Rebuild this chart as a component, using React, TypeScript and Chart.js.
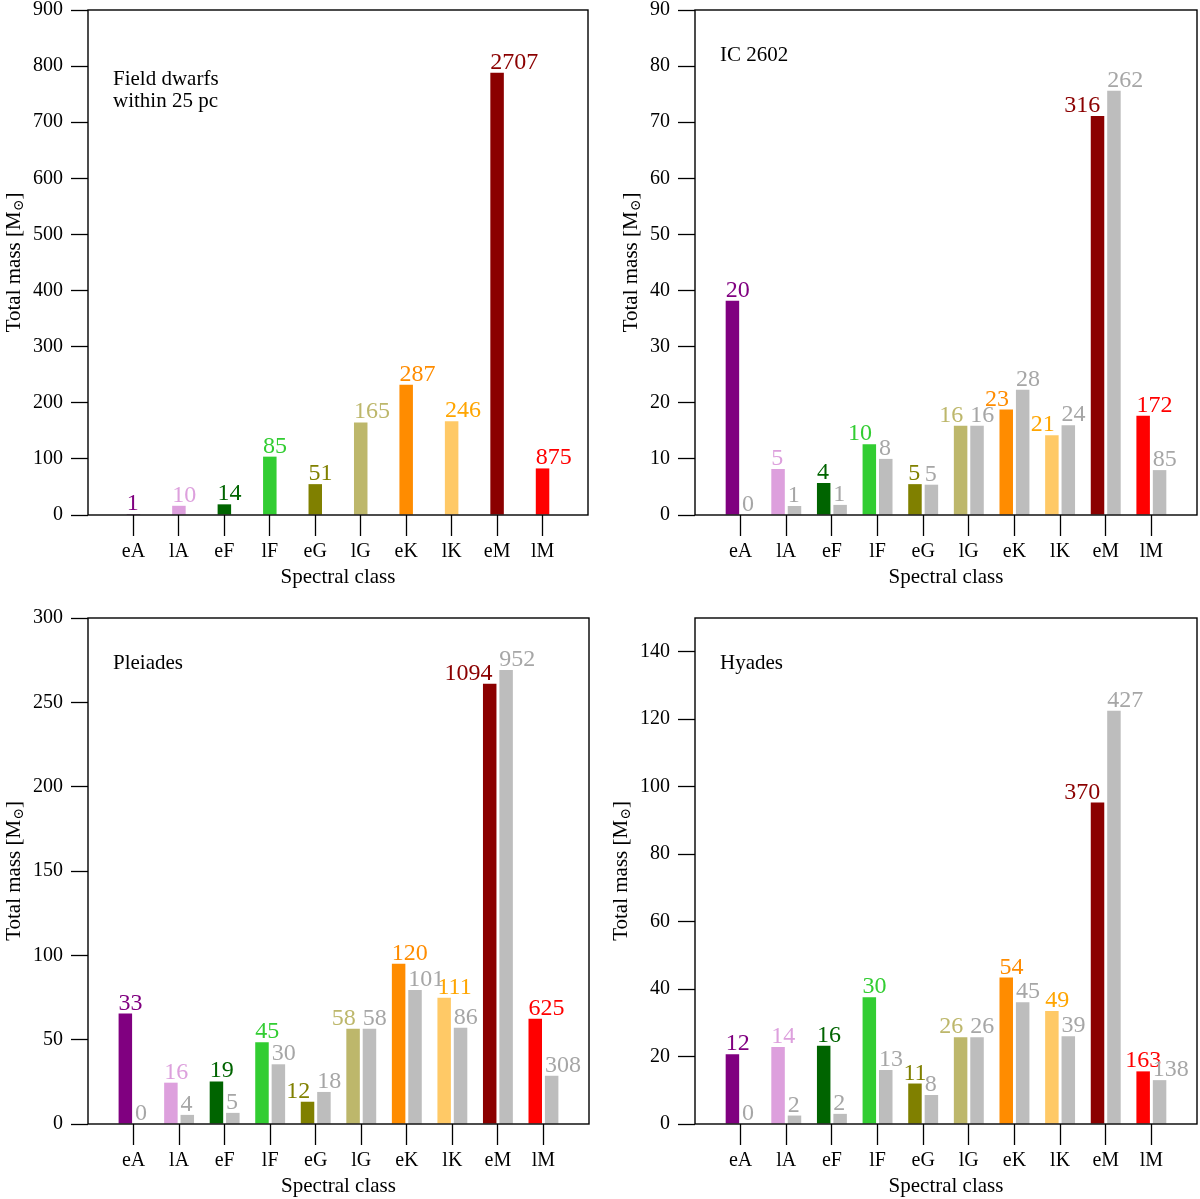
import React, { useEffect, useRef } from 'react';
import { Chart, registerables } from 'chart.js';

Chart.register(...registerables);

const classes = ['eA', 'lA', 'eF', 'lF', 'eG', 'lG', 'eK', 'lK', 'eM', 'lM'];

// field dwarfs within 25 pc
const fieldMass = [1.5, 16.4, 19, 104, 55, 165, 232, 167, 788, 83];
const fieldCounts = [1, 10, 14, 85, 51, 165, 287, 246, 2707, 875];
const fieldTicks = [0, 100, 200, 300, 400, 500, 600, 700, 800, 900];

// IC 2602
const ic2602Mass = [38.2, 8.2, 5.7, 12.6, 5.5, 15.9, 18.8, 14.2, 71.1, 17.7];
const ic2602Counts = [20, 5, 4, 10, 5, 16, 23, 21, 316, 172];
const ic2602RefMass = [0, 1.6, 1.8, 10.0, 5.4, 15.9, 22.3, 16.0, 75.6, 8.0];
const ic2602RefCounts = [0, 1, 1, 8, 5, 16, 28, 24, 262, 85];
const ic2602Ticks = [0, 10, 20, 30, 40, 50, 60, 70, 80, 90];

// Pleiades
const pleiadesMass = [65.5, 24.5, 25.2, 48.5, 13.2, 56.5, 95.0, 74.8, 261, 62.4];
const pleiadesCounts = [33, 16, 19, 45, 12, 58, 120, 111, 1094, 625];
const pleiadesRefMass = [0, 5.4, 6.6, 35.4, 19.0, 56.5, 79.4, 57.1, 269.2, 28.6];
const pleiadesRefCounts = [0, 4, 5, 30, 18, 58, 101, 86, 952, 308];
const pleiadesTicks = [0, 50, 100, 150, 200, 250, 300];

// Hyades
const hyadesMass = [20.7, 22.8, 23.2, 37.6, 12.0, 25.7, 43.4, 33.5, 95.3, 15.6];
const hyadesCounts = [12, 14, 16, 30, 11, 26, 54, 49, 370, 163];
const hyadesRefMass = [0, 2.5, 3.0, 16.0, 8.6, 25.7, 36.1, 26.0, 122.5, 13.0];
const hyadesRefCounts = [0, 2, 2, 13, 8, 26, 45, 39, 427, 138];
const hyadesTicks = [0, 20, 40, 60, 80, 100, 120, 140];

// colours per spectral class
const barColors = ['#800080', '#dda0dd', '#006400', '#32cd32', '#808000', '#bdb76b', '#ff8c00', 'rgba(255,165,0,0.6)', '#8b0000', '#ff0000'];
const textColors = ['#800080', '#dda0dd', '#006400', '#32cd32', '#808000', '#bdb76b', '#ff8c00', '#ffa500', '#8b0000', '#ff0000'];
const greyBar = '#bdbdbd';
const greyText = '#a6a6a6';

// how the coloured count label sits over its bar (l = from bar left, r = ends at bar right, c = centred)
const fieldAlign = ['l', 'l', 'l', 'l', 'l', 'l', 'l', 'l', 'l', 'l'];
const ic2602Align = ['l', 'l', 'l', 'r', 'l', 'r', 'r', 'r', 'r', 'l'];
const pleiadesAlign = ['l', 'l', 'l', 'l', 'r', 'r', 'l', 'l', 'r', 'l'];
const hyadesAlign = ['l', 'l', 'l', 'l', 'c', 'r', 'l', 'l', 'r', 'c'];

const serif = '"Liberation Serif", "DejaVu Serif", serif';
const BAR_PX = 13.5;

type PanelProps = {
  left: number;
  top: number;
  width: number;
  height: number;
  area: [number, number, number, number];
  yMax: number;
  yTicks: number[];
  caption: string[];
  captionY: number;
  mass: number[];
  counts: number[];
  refMass?: number[];
  refCounts?: number[];
  align: string[];
};

const Panel: React.FC<PanelProps> = (p) => {
  const canvasRef = useRef<HTMLCanvasElement>(null);
  const chartInstance = useRef<Chart | null>(null);

  useEffect(() => {
    if (!canvasRef.current) return;
    if (chartInstance.current) chartInstance.current.destroy();
    const ctx = canvasRef.current.getContext('2d');
    if (!ctx) return;

    const [aL, aT, aR, aB] = p.area;
    const pad = (v: number[]) => [null, ...v, null];
    const labels = ['', ...classes, ''];
    const single = !p.refMass;

    // one category step in pixels (x runs from one step before eA to one after lM)
    const step = (aR - aL) / (labels.length - 1);
    const catPct = single ? 1 : 0.72;
    const slot = (step * catPct) / (single ? 1 : 2);
    const barPct = BAR_PX / slot;

    const datasets: any[] = [
      {
        data: pad(p.mass),
        backgroundColor: ['transparent', ...barColors, 'transparent'],
      },
    ];
    if (p.refMass) {
      datasets.push({
        data: pad(p.refMass),
        backgroundColor: greyBar,
      });
    }

    const decor = {
      id: 'decor',
      afterDatasetsDraw(chart: any) {
        const c = chart.ctx;
        const ca = chart.chartArea;
        c.save();

        // count labels
        c.font = `24px ${serif}`;
        c.textBaseline = 'alphabetic';
        const m0 = chart.getDatasetMeta(0);
        p.counts.forEach((n, i) => {
          const bar = m0.data[i + 1];
          const x = bar.x, y = bar.y, w = bar.width;
          c.fillStyle = textColors[i];
          const a = p.align[i];
          if (a === 'r') {
            c.textAlign = 'right';
            c.fillText(String(n), x + w / 2 - 4, y - 4);
          } else if (a === 'c') {
            c.textAlign = 'center';
            c.fillText(String(n), x, y - 4);
          } else {
            c.textAlign = 'left';
            c.fillText(String(n), x - w / 2, y - 4);
          }
        });
        if (p.refCounts) {
          const m1 = chart.getDatasetMeta(1);
          p.refCounts.forEach((n, i) => {
            const bar = m1.data[i + 1];
            c.fillStyle = greyText;
            c.textAlign = 'left';
            c.fillText(String(n), bar.x - bar.width / 2, bar.y - 4);
          });
        }

        // frame
        c.strokeStyle = '#000';
        c.lineWidth = 1.4;
        c.strokeRect(ca.left, ca.top, ca.right - ca.left, ca.bottom - ca.top);

        // caption
        c.fillStyle = '#000';
        c.font = `21px ${serif}`;
        c.textAlign = 'left';
        p.caption.forEach((line, k) => {
          c.fillText(line, ca.left + 25, ca.top + p.captionY + k * 21.5);
        });

        // x title
        c.font = `21px ${serif}`;
        c.textAlign = 'center';
        c.fillText('Spectral class', (ca.left + ca.right) / 2, ca.bottom + 68);

        // y title with subscript sun symbol
        c.font = `20px ${serif}`;
        let widest = 0;
        p.yTicks.forEach((t) => {
          widest = Math.max(widest, c.measureText(String(t)).width);
        });
        const tx = ca.left - 25 - widest - 19;
        const main = 'Total mass [M';
        c.font = `21px ${serif}`;
        const wMain = c.measureText(main).width;
        const wClose = c.measureText(']').width;
        c.font = `14px ${serif}`;
        const wSun = c.measureText('⊙').width;
        const total = wMain + wSun + wClose;
        c.translate(tx, (ca.top + ca.bottom) / 2);
        c.rotate(-Math.PI / 2);
        c.textAlign = 'left';
        c.textBaseline = 'middle';
        c.font = `21px ${serif}`;
        c.fillText(main, -total / 2, 0);
        c.font = `14px ${serif}`;
        c.fillText('⊙', -total / 2 + wMain, 5);
        c.font = `21px ${serif}`;
        c.fillText(']', -total / 2 + wMain + wSun, 0);

        c.restore();
      },
    };

    chartInstance.current = new Chart(ctx, {
      type: 'bar',
      data: { labels, datasets },
      options: {
        responsive: false,
        animation: false,
        events: [],
        layout: {
          padding: { left: 0, top: aT, right: p.width - aR, bottom: 0 },
        },
        datasets: {
          bar: {
            categoryPercentage: catPct,
            barPercentage: barPct,
            grouped: true,
          },
        },
        plugins: {
          legend: { display: false },
          tooltip: { enabled: false },
          title: { display: false },
        },
        scales: {
          x: {
            type: 'category',
            offset: false,
            border: { display: false },
            grid: {
              offset: false,
              drawOnChartArea: false,
              drawTicks: true,
              tickLength: 21,
              tickWidth: 1.3,
              tickColor: (t: any) => (t.index === 0 || t.index === labels.length - 1 ? 'rgba(0,0,0,0)' : '#000'),
            },
            ticks: {
              color: '#000',
              font: { family: serif, size: 20 },
              padding: 4,
              maxRotation: 0,
              autoSkip: false,
            },
            afterFit: (scale: any) => {
              scale.height = p.height - aB;
              scale.paddingLeft = 0;
              scale.paddingRight = 0;
            },
          },
          y: {
            min: 0,
            max: p.yMax,
            border: { display: false },
            afterBuildTicks: (scale: any) => {
              scale.ticks = p.yTicks.map((v) => ({ value: v }));
            },
            grid: {
              drawOnChartArea: false,
              drawTicks: true,
              tickLength: 17,
              tickWidth: 1.3,
              tickColor: '#000',
            },
            ticks: {
              color: '#000',
              font: { family: serif, size: 20 },
              padding: 8,
            },
            afterFit: (scale: any) => {
              scale.width = aL;
              scale.paddingTop = 0;
              scale.paddingBottom = 0;
            },
          },
        },
      },
      plugins: [decor],
    });

    return () => {
      if (chartInstance.current) {
        chartInstance.current.destroy();
        chartInstance.current = null;
      }
    };
  }, []);

  return (
    <canvas
      ref={canvasRef}
      width={p.width}
      height={p.height}
      style={{ position: 'absolute', left: p.left, top: p.top, width: p.width, height: p.height }}
    />
  );
};

export default function App() {
  return (
    <div style={{ position: 'fixed', left: 0, top: 0, width: 1200, height: 1199, background: '#fff', overflow: 'hidden' }}>
      <Panel
        left={0} top={0} width={600} height={600}
        area={[88, 10, 588, 515]}
        yMax={900} yTicks={fieldTicks}
        caption={['Field dwarfs', 'within 25 pc']} captionY={75}
        mass={fieldMass} counts={fieldCounts}
        align={fieldAlign}
      />
      <Panel
        left={600} top={0} width={600} height={600}
        area={[95, 10, 597, 515]}
        yMax={90} yTicks={ic2602Ticks}
        caption={['IC 2602']} captionY={51}
        mass={ic2602Mass} counts={ic2602Counts}
        refMass={ic2602RefMass} refCounts={ic2602RefCounts}
        align={ic2602Align}
      />
      <Panel
        left={0} top={600} width={600} height={599}
        area={[88, 18, 589, 524]}
        yMax={300} yTicks={pleiadesTicks}
        caption={['Pleiades']} captionY={51}
        mass={pleiadesMass} counts={pleiadesCounts}
        refMass={pleiadesRefMass} refCounts={pleiadesRefCounts}
        align={pleiadesAlign}
      />
      <Panel
        left={600} top={600} width={600} height={599}
        area={[95, 18, 597, 524]}
        yMax={150} yTicks={hyadesTicks}
        caption={['Hyades']} captionY={51}
        mass={hyadesMass} counts={hyadesCounts}
        refMass={hyadesRefMass} refCounts={hyadesRefCounts}
        align={hyadesAlign}
      />
    </div>
  );
}
